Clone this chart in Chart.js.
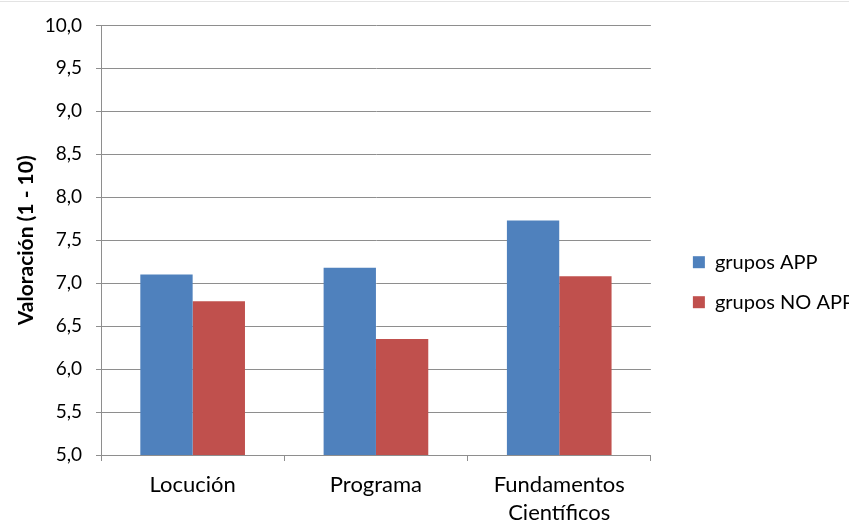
<!DOCTYPE html>
<html lang="es">
<head>
    <meta charset="UTF-8">
    <title>Valoración grupos APP / NO APP</title>
    <script src="https://cdn.jsdelivr.net/npm/chart.js@4.4.1/dist/chart.umd.min.js"></script>
    <style>
        body { margin: 0; background: #fff; }
        .wrap { width: 849px; height: 524px; position: relative; }
        .wrap::before { content: ""; position: absolute; left: 0; right: 0; top: 1px; height: 1px; background: #e3e3e3; }
    </style>
</head>
<body>
    <div class="wrap"><canvas id="chart"></canvas></div>

    <script>
        const categories = ["Locución", "Programa", ["Fundamentos", "Científicos"]];
        const grupoApp = [7.10, 7.18, 7.73];
        const grupoNoApp = [6.79, 6.35, 7.08];
        const seriesNames = ["grupos APP", "grupos NO APP"];
        const yMin = 5, yMax = 10, yStep = 0.5;

        const font = "Lato, 'Open Sans', sans-serif";
        const gridColor = "#8e8e8e";

        // push the legend a bit away from the plot, like the original
        const legendShift = {
            id: "legendShift",
            afterLayout(chart) {
                if (chart.legend) {
                    chart.legend.left += 22;
                    chart.legend.right += 22;
                }
            }
        };

        new Chart(document.getElementById("chart"), {
            type: "bar",
            data: {
                labels: categories,
                datasets: [
                    { label: seriesNames[0], data: grupoApp, backgroundColor: "#4f81bd" },
                    { label: seriesNames[1], data: grupoNoApp, backgroundColor: "#c0504d" }
                ]
            },
            plugins: [legendShift],
            options: {
                responsive: true,
                maintainAspectRatio: false,
                animation: false,
                categoryPercentage: 0.571,
                barPercentage: 1.0,
                layout: { padding: { left: 14, top: 16, right: 7, bottom: 0 } },
                plugins: {
                    tooltip: { enabled: false },
                    legend: {
                        position: "right",
                        title: { display: true, text: "", padding: 5 },
                        labels: {
                            boxWidth: 12,
                            boxHeight: 12,
                            padding: 20,
                            color: "#000",
                            font: { family: font, size: 20 }
                        }
                    }
                },
                scales: {
                    x: {
                        grid: { display: true, drawOnChartArea: false, color: gridColor, tickLength: 6, offset: true },
                        border: { color: gridColor },
                        ticks: { color: "#000", padding: 10, font: { family: font, size: 22, lineHeight: 1.27 } },
                        afterFit: s => { s.height = 69; }
                    },
                    y: {
                        min: yMin,
                        max: yMax,
                        grid: { color: gridColor, tickLength: 5 },
                        border: { color: gridColor },
                        ticks: {
                            stepSize: yStep,
                            color: "#000",
                            padding: 14,
                            font: { family: font, size: 19 },
                            callback: v => v.toFixed(1).replace(".", ",")
                        },
                        title: {
                            display: true,
                            text: "Valoración (1 - 10)",
                            color: "#000",
                            padding: { top: 0, bottom: 4 },
                            font: { family: font, size: 21, weight: "bold" }
                        },
                        afterFit: s => { s.width = 87; }
                    }
                }
            }
        });
    </script>
</body>
</html>
